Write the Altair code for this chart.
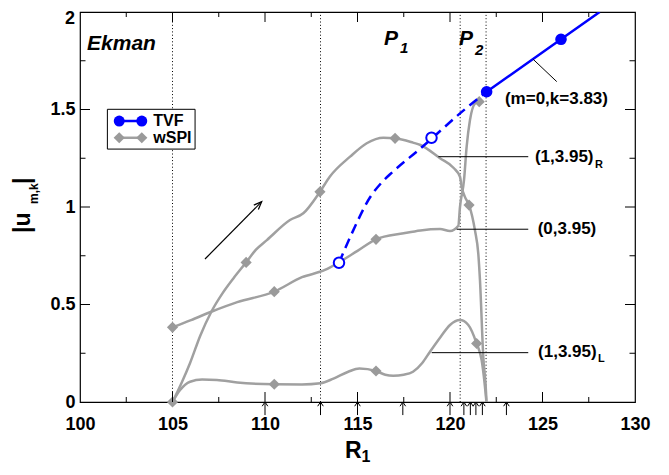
import altair as alt
import pandas as pd

FONT = "Liberation Sans"
BLUE = "#0000ff"
GRAY = "#a0a0a0"
GRAY_MK = "#9a9a9a"

X_DOMAIN = [100, 130]
Y_DOMAIN = [0, 2]
PLOT_W, PLOT_H = 555, 390
X_LABELS = [100, 105, 110, 115, 120, 125, 130]
Y_LABELS = [0, 0.5, 1, 1.5]
Y_TOP_LABEL = "2"
X_MAJOR = [105, 110, 115, 120, 125]
X_MINOR = [102.5, 107.5, 112.5, 117.5, 122.5, 127.5]
Y_MAJOR = [0.5, 1.0, 1.5]
Y_MINOR = [0.25, 0.75, 1.25, 1.75]

# wSPI curves
R_X = [105.0, 105.5, 105.95, 106.5, 107.1, 107.7, 108.3, 108.98, 109.5, 110.1, 111.35, 112.07,
       112.97, 113.5, 114.6, 115.5, 116.4, 117.03, 118.0, 118.4, 119.46, 120.2, 120.54, 120.63,
       120.8, 121.03, 121.35, 121.53, 121.62, 121.8, 121.95, 121.97]
R_Y = [0.0, 0.1, 0.2, 0.34, 0.463, 0.557, 0.635, 0.716, 0.78, 0.83, 0.933, 0.968,
       1.078, 1.155, 1.258, 1.327, 1.355, 1.352, 1.33, 1.318, 1.25, 1.2, 1.155, 1.104,
       1.053, 1.01, 0.88, 0.76, 0.625, 0.23, 0.046, 0.0]
O_X = [105.0, 106.0, 107.1, 108.5, 110.5, 112.0, 113.24, 114.0, 115.0, 116.0, 117.5, 118.4,
       119.46, 120.0, 120.45, 120.54, 120.76, 120.9, 121.08, 121.35, 121.58]
O_Y = [0.383, 0.42, 0.463, 0.512, 0.566, 0.64, 0.677, 0.716, 0.775, 0.834, 0.865, 0.88,
       0.887, 0.877, 0.904, 1.0, 1.14, 1.31, 1.446, 1.53, 1.54]
L_X = [105.0, 105.4, 105.95, 106.6, 107.4, 108.5, 110.5, 112.0, 113.0, 113.7, 114.5, 115.1,
       116.0, 116.5, 116.93, 117.5, 118.0, 118.5, 118.92, 119.5, 120.0, 120.54, 120.99, 121.44,
       121.71, 121.89, 121.97]
L_Y = [0.0, 0.06, 0.104, 0.115, 0.113, 0.1, 0.091, 0.09, 0.096, 0.12, 0.155, 0.172,
       0.159, 0.14, 0.135, 0.14, 0.155, 0.2, 0.258, 0.335, 0.395, 0.42, 0.395, 0.30,
       0.215, 0.078, 0.0]

# wSPI markers
MK_X = [105.0, 108.98, 112.97, 117.03, 121.03, 105.0, 110.5, 116.0, 121.58, 110.5, 116.0, 121.44]
MK_Y = [0.0, 0.716, 1.078, 1.352, 1.01, 0.383, 0.566, 0.834, 1.54, 0.091, 0.159, 0.30]

# TVF branch
TVF_SOLID_X = [121.98, 126.0, 128.09]
TVF_SOLID_Y = [1.591, 1.86, 2.0]
TVF_DASH_X = [114.0, 114.77, 115.68, 116.3, 116.9, 118.4, 119.0, 120.54, 121.98]
TVF_DASH_Y = [0.714, 0.88, 1.05, 1.125, 1.18, 1.30, 1.35, 1.48, 1.591]
TVF_FILLED_X = [121.98, 126.0]
TVF_FILLED_Y = [1.591, 1.86]
TVF_OPEN_X = [114.0, 119.0]
TVF_OPEN_Y = [0.714, 1.355]

# region boundaries and marked R1 values
DOTTED_X = [105, 113, 120.55, 121.95]
ARROW_X = [110, 113, 115, 117.45, 120, 120.75, 121.1, 121.4, 121.75, 123.05]

# leader lines of the labels
LEAD_X1 = [124.5, 119.37, 120.36, 119.01]
LEAD_Y1 = [1.757, 1.258, 0.886, 0.253]
LEAD_X2 = [125.77, 124.23, 124.23, 124.23]
LEAD_Y2 = [1.643, 1.258, 0.886, 0.253]

# labels
LABEL_TEXT = ["(m=0,k=3.83)", "(1,3.95)", "(0,3.95)", "(1,3.95)"]
LABEL_X = [122.97, 124.59, 124.74, 124.76]
LABEL_Y = [1.554, 1.254, 0.887, 0.256]
LABEL_SUB = ["R", "L"]
LABEL_SUB_X = [127.84, 128.0]
LABEL_SUB_Y = [1.213, 0.223]

REGION_TEXT = ["Ekman", "P", "P"]
REGION_X = [100.38, 116.43, 120.49]
REGION_Y = [1.805, 1.831, 1.831]
REGION_SUB = ["1", "2"]
REGION_SUB_X = [117.3, 121.35]
REGION_SUB_Y = [1.79, 1.779]

# diagonal arrow
BIG_ARROW = dict(x=106.757, y=0.7333, x2=109.822, y2=1.0272)
BIG_HEAD = dict(x=109.67, y=1.0128)

# legend
LEG_BOX = dict(x=101.48, x2=106.22, y=1.501, y2=1.297)
LEG_NAMES = ["TVF", "wSPI"]
LEG_Y = [1.441, 1.355]
LEG_X1, LEG_X2, LEG_TX = 102.12, 103.34, 103.96

xs = alt.Scale(domain=X_DOMAIN, nice=False, zero=False)
ys = alt.Scale(domain=Y_DOMAIN, nice=False, zero=False)
x_axis = alt.Axis(values=X_LABELS, title="", ticks=False, tickSize=0, domain=False, grid=False,
                  labelFont=FONT, labelFontSize=18, labelFontWeight="bold", labelColor="black",
                  labelPadding=13, labelFlush=False, labelOverlap=False, format="d")
y_axis = alt.Axis(values=Y_LABELS, title="", ticks=False, tickSize=0, domain=False, grid=False,
                  labelFont=FONT, labelFontSize=18, labelFontWeight="bold", labelColor="black",
                  labelPadding=5, labelOverlap=False, format="~g")


def X(f):
    return alt.X(f, type="quantitative", scale=xs, axis=x_axis)


def Y(f):
    return alt.Y(f, type="quantitative", scale=ys, axis=y_axis)


# dotted verticals
dotted_df = pd.DataFrame({"x": DOTTED_X, "y": [0] * len(DOTTED_X), "y2": [2] * len(DOTTED_X)})
dotted = alt.Chart(dotted_df).mark_rule(color="black", strokeWidth=1, strokeDash=[1, 2.3]).encode(
    x=X("x"), y=Y("y"), y2="y2")

# gray curves
curves_df = pd.concat([
    pd.DataFrame({"x": R_X, "y": R_Y, "s": "R"}),
    pd.DataFrame({"x": O_X, "y": O_Y, "s": "O"}),
    pd.DataFrame({"x": L_X, "y": L_Y, "s": "L"}),
])
curves = alt.Chart(curves_df).mark_line(color=GRAY, strokeWidth=2.5, interpolate="monotone").encode(
    x=X("x"), y=Y("y"), detail="s:N")
mk_df = pd.DataFrame({"x": MK_X, "y": MK_Y})
marks = alt.Chart(mk_df).mark_point(shape="diamond", filled=True, color=GRAY_MK, size=125, opacity=1).encode(
    x=X("x"), y=Y("y"))

# TVF
solid = alt.Chart(pd.DataFrame({"x": TVF_SOLID_X, "y": TVF_SOLID_Y})).mark_line(
    color=BLUE, strokeWidth=2.5, clip=True).encode(x=X("x"), y=Y("y"))
dash = alt.Chart(pd.DataFrame({"x": TVF_DASH_X, "y": TVF_DASH_Y})).mark_line(
    color=BLUE, strokeWidth=2.5, strokeDash=[10, 6], interpolate="monotone").encode(x=X("x"), y=Y("y"))
filled = alt.Chart(pd.DataFrame({"x": TVF_FILLED_X, "y": TVF_FILLED_Y})).mark_point(
    shape="circle", filled=True, color=BLUE, size=135, opacity=1).encode(x=X("x"), y=Y("y"))
opened = alt.Chart(pd.DataFrame({"x": TVF_OPEN_X, "y": TVF_OPEN_Y})).mark_point(
    shape="circle", filled=True, fill="white", stroke=BLUE, strokeWidth=2, size=110, opacity=1).encode(
    x=X("x"), y=Y("y"))

# leader lines
lead_df = pd.DataFrame({"x": LEAD_X1, "y": LEAD_Y1, "x2": LEAD_X2, "y2": LEAD_Y2})
leaders = alt.Chart(lead_df).mark_rule(color="black", strokeWidth=1).encode(
    x=X("x"), y=Y("y"), x2="x2", y2="y2")


def text_layer(texts, xv, yv, size, style="normal", baseline="middle"):
    df = pd.DataFrame({"x": xv, "y": yv, "t": texts})
    return alt.Chart(df).mark_text(font=FONT, fontSize=size, fontWeight="bold", fontStyle=style,
                                   align="left", baseline=baseline, color="black").encode(
        x=X("x"), y=Y("y"), text="t:N")


labels = text_layer(LABEL_TEXT, LABEL_X, LABEL_Y, 17)
label_subs = text_layer(LABEL_SUB, LABEL_SUB_X, LABEL_SUB_Y, 11)
regions = text_layer(REGION_TEXT, REGION_X, REGION_Y, 21, style="italic", baseline="alphabetic")
region_subs = text_layer(REGION_SUB, REGION_SUB_X, REGION_SUB_Y, 15, style="italic", baseline="alphabetic")

# diagonal arrow
big_line = alt.Chart(pd.DataFrame([BIG_ARROW])).mark_rule(color="black", strokeWidth=1.2).encode(
    x=X("x"), y=Y("y"), x2="x2", y2="y2")
big_head = alt.Chart(pd.DataFrame([BIG_HEAD])).mark_point(
    shape="M-0.8,1L0,-1L0.8,1", filled=False, stroke="black", strokeWidth=1.2, size=64, angle=44.7,
    opacity=1).encode(x=X("x"), y=Y("y"))

# small arrows below the axis
arr_df = pd.DataFrame({"x": ARROW_X, "y": [-0.067] * len(ARROW_X), "y2": [0.0] * len(ARROW_X),
                       "yh": [-0.0108] * len(ARROW_X)})
arr_lines = alt.Chart(arr_df).mark_rule(color="black", strokeWidth=1).encode(x=X("x"), y=Y("y"), y2="y2")
arr_heads = alt.Chart(arr_df).mark_point(shape="M-0.8,0.6L0,-0.6L0.8,0.6", filled=False, stroke="black",
                                         strokeWidth=1, size=49, opacity=1).encode(x=X("x"), y=Y("yh"))

# inward frame ticks
pu, pr = 2 / 390, 30 / 555
rows = []
for v, ln in [(v, 10) for v in X_MAJOR] + [(v, 5) for v in X_MINOR]:
    rows.append((v, v, 0, ln * pu))
    rows.append((v, v, 2, 2 - ln * pu))
for v, ln in [(v, 10) for v in Y_MAJOR] + [(v, 5.5) for v in Y_MINOR]:
    rows.append((100, 100 + ln * pr, v, v))
    rows.append((130, 130 - ln * pr, v, v))
tick_df = pd.DataFrame(rows, columns=["x", "x2", "y", "y2"])
ticks = alt.Chart(tick_df).mark_rule(color="black", strokeWidth=1).encode(
    x=X("x"), x2="x2", y=Y("y"), y2="y2")

# legend
leg_box = alt.Chart(pd.DataFrame([LEG_BOX])).mark_rect(fill="white", stroke="black", strokeWidth=1).encode(
    x=X("x"), x2="x2", y=Y("y"), y2="y2")
leg_lines_df = pd.DataFrame({"x": [LEG_X1, LEG_X2, LEG_X1, LEG_X2], "y": [LEG_Y[0]] * 2 + [LEG_Y[1]] * 2,
                             "s": ["TVF", "TVF", "wSPI", "wSPI"]})
leg_lines = alt.Chart(leg_lines_df).mark_line(strokeWidth=2.5).encode(
    x=X("x"), y=Y("y"), detail="s:N",
    color=alt.Color("s:N", scale=alt.Scale(domain=LEG_NAMES, range=[BLUE, GRAY]), legend=None))
leg_circ = alt.Chart(leg_lines_df[leg_lines_df.s == "TVF"]).mark_point(
    shape="circle", filled=True, color=BLUE, size=120, opacity=1).encode(x=X("x"), y=Y("y"))
leg_diam = alt.Chart(leg_lines_df[leg_lines_df.s == "wSPI"]).mark_point(
    shape="diamond", filled=True, color=GRAY_MK, size=125, opacity=1).encode(x=X("x"), y=Y("y"))
leg_text = text_layer(LEG_NAMES, [LEG_TX, LEG_TX], LEG_Y, 16)

# axis titles and the top y label (positions in pixels, relative to the plot area)
one = pd.DataFrame({"a": [0]})


def pix_text(t, px, py, size, angle=0, baseline="alphabetic", align="left"):
    return alt.Chart(one).mark_text(text=t, font=FONT, fontSize=size, fontWeight="bold", align=align,
                                    baseline=baseline, angle=angle, color="black").encode(
        x=alt.value(px), y=alt.value(py))


titles = [
    pix_text(Y_TOP_LABEL, -5, 6.5, 18, baseline="middle", align="right"),
    pix_text("R", 265, 446, 23),
    pix_text("1", 281.5, 450, 16),
    pix_text("|u", -50, 221, 23, angle=270),
    pix_text("m,k", -42, 192, 12, angle=270),
    pix_text("|", -50, 172, 23, angle=270),
]

chart = alt.layer(
    dotted, curves, marks, dash, solid, opened, filled, leaders, labels, label_subs,
    regions, region_subs, big_line, big_head, arr_lines, arr_heads, ticks,
    leg_box, leg_lines, leg_circ, leg_diam, leg_text, *titles
).properties(
    width=PLOT_W, height=PLOT_H,
    autosize=alt.AutoSizeParams(type="none"),
    padding={"left": 72, "top": 4, "right": 26, "bottom": 65},
    background="white",
).configure_view(stroke="black", strokeWidth=1.2)

chart.save("out.html", embed_options={"renderer": "svg", "actions": False})
